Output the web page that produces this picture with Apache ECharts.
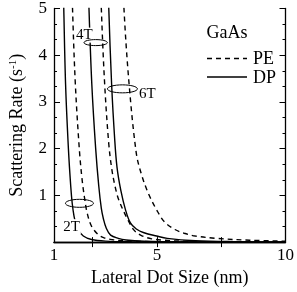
<!DOCTYPE html>
<html><head><meta charset="utf-8">
<script src="https://cdn.jsdelivr.net/npm/echarts@6/dist/echarts.min.js"></script>
<style>html,body{margin:0;padding:0;background:#fff}#c{width:297px;height:292px}</style>
</head><body><div id="c"></div>
<script>
const xLabelValues = [1, 5, 10];
const xTickValues = [2.5, 5, 7.5];
const yLabelValues = [1, 2, 3, 4, 5];

const dp2T = [[1.36,5.6],[1.38,5.0],[1.45,3.38],[1.56,2.0],[1.65,1.2],[1.71,0.82],[1.78,0.55],[1.86,0.37],[1.93,0.27],[2.14,0.13],[2.46,0.055],[3.0,0.02],[4.0,0.006],[6.0,0.001],[10,0]];
const pe2T = [[1.70,5.6],[1.72,5.0],[1.83,3.38],[1.99,1.95],[2.1,1.3],[2.2,0.9],[2.29,0.62],[2.45,0.35],[2.7,0.17],[2.95,0.09],[3.3,0.05],[3.7,0.03],[4.5,0.012],[6.0,0.004],[10,0]];
const dp4T = [[2.34,5.6],[2.36,5.0],[2.47,3.38],[2.62,2.0],[2.74,1.2],[2.84,0.72],[2.92,0.5],[3.03,0.3],[3.2,0.15],[3.5,0.08],[3.8,0.045],[4.5,0.018],[6.0,0.004],[10,0]];
const pe4T = [[2.82,5.6],[2.84,5.0],[2.97,3.38],[3.13,2.1],[3.25,1.55],[3.38,1.18],[3.52,0.9],[3.85,0.5],[4.12,0.25],[4.4,0.14],[4.8,0.07],[5.3,0.04],[6.0,0.02],[7.5,0.005],[10,0]];
const dp6T = [[3.11,5.6],[3.13,5.0],[3.24,3.38],[3.36,2.2],[3.45,1.6],[3.6,1.1],[3.78,0.69],[3.97,0.41],[4.2,0.28],[4.5,0.2],[4.99,0.13],[5.4,0.08],[6.5,0.03],[8.0,0.01],[10,0.002]];
const pe6T = [[3.70,5.6],[3.72,5.0],[3.92,3.38],[4.2,1.9],[4.4,1.45],[4.67,1.04],[4.99,0.69],[5.3,0.43],[5.7,0.27],[6.06,0.19],[6.5,0.13],[7.3,0.08],[8.6,0.04],[10,0.02]];

const fieldLabels = [
  {text:'2T', ell:[1.99,0.83], rx:14, ry:4, lab:[1.68,0.33]},
  {text:'4T', ell:[2.62,4.27], rx:11.7, ry:3, lab:[2.18,4.43]},
  {text:'6T', ell:[3.66,3.28], rx:15, ry:4, lab:[4.63,3.16]}
];

const FF = 'Liberation Serif';
const chart = echarts.init(document.getElementById('c'), null, {renderer:'canvas'});

function lineSeries(data, dashed){
  return {type:'line', data:data, xAxisIndex:0, yAxisIndex:0, showSymbol:false, smooth:0.35,
    lineStyle:{color:'#000', width:1.4, type: dashed ? [5,4] : 'solid'}, clip:true, silent:true, z:2};
}

const tickCommon = {show:true, inside:true, length:6, lineStyle:{color:'#000', width:1}};
chart.setOption({
  animation:false,
  backgroundColor:'#fff',
  textStyle:{fontFamily:FF},
  grid:{left:50, right:10, top:8, bottom:46},
  xAxis:[
    {type:'value', min:1, max:10, position:'bottom',
     name:'Lateral Dot Size (nm)', nameLocation:'middle', nameGap:18,
     nameTextStyle:{fontFamily:FF, fontSize:18, color:'#000'},
     axisLine:{show:true, lineStyle:{color:'#000', width:1.3}},
     axisTick:Object.assign({}, tickCommon, {customValues:xTickValues, length:5}),
     axisLabel:{customValues:xLabelValues, fontFamily:FF, fontSize:17, color:'#000', margin:5},
     splitLine:{show:false}},
    {type:'value', min:1, max:10, position:'top',
     axisLine:{show:true, lineStyle:{color:'#000', width:1.3}},
     axisTick:Object.assign({}, tickCommon, {customValues:xTickValues, length:5}),
     axisLabel:{show:false}, splitLine:{show:false}}
  ],
  yAxis:[
    {type:'value', min:0, max:5, interval:1, position:'left',
     name:'Scattering Rate (s{sup|-1})', nameLocation:'middle', nameGap:28,
     nameTextStyle:{fontFamily:FF, fontSize:18, color:'#000',
       rich:{sup:{fontFamily:FF, fontSize:11, color:'#000', verticalAlign:'top', lineHeight:18, padding:[0,0,8,0]}}},
     axisLine:{show:true, lineStyle:{color:'#000', width:1.3}},
     axisTick:tickCommon,
     minorTick:{show:true, splitNumber:3, length:3, lineStyle:{color:'#000', width:1}},
     axisLabel:{customValues:yLabelValues, fontFamily:FF, fontSize:17, color:'#000', margin:7},
     splitLine:{show:false}},
    {type:'value', min:0, max:5, interval:1, position:'right',
     axisLine:{show:true, lineStyle:{color:'#000', width:1.3}},
     axisTick:tickCommon,
     minorTick:{show:true, splitNumber:3, length:3, lineStyle:{color:'#000', width:1}},
     axisLabel:{show:false}, splitLine:{show:false}}
  ],
  series:[
    lineSeries(dp2T,false), lineSeries(pe2T,true),
    lineSeries(dp4T,false), lineSeries(pe4T,true),
    lineSeries(dp6T,false), lineSeries(pe6T,true)
  ]
});

const g = [];
fieldLabels.forEach(f => {
  const c = chart.convertToPixel({gridIndex:0}, f.ell);
  const t = chart.convertToPixel({gridIndex:0}, f.lab);
  g.push({type:'text', x:t[0], y:t[1], z:10,
    style:{text:f.text, fontFamily:FF, fontSize:15, fill:'#000', align:'center', verticalAlign:'middle',
      backgroundColor:'#fff', padding:[0,1,0,1]}});
  g.push({type:'ellipse', z:11, shape:{cx:c[0], cy:c[1], rx:f.rx, ry:f.ry},
    style:{fill:'none', stroke:'#000', lineWidth:1}});
});
// legend
g.push({type:'text', x:227, y:33, z:10, style:{text:'GaAs', fontFamily:FF, fontSize:18, fill:'#000', align:'center', verticalAlign:'middle'}});
g.push({type:'line', z:10, shape:{x1:207, y1:58.5, x2:247, y2:58.5}, style:{stroke:'#000', lineWidth:1.4, lineDash:[5,4]}});
g.push({type:'text', x:253, y:59, z:10, style:{text:'PE', fontFamily:FF, fontSize:18, fill:'#000', align:'left', verticalAlign:'middle'}});
g.push({type:'line', z:10, shape:{x1:207, y1:77, x2:247, y2:77}, style:{stroke:'#000', lineWidth:1.4}});
g.push({type:'text', x:253, y:78, z:10, style:{text:'DP', fontFamily:FF, fontSize:18, fill:'#000', align:'left', verticalAlign:'middle'}});
chart.setOption({graphic:g});
</script>
</body></html>
